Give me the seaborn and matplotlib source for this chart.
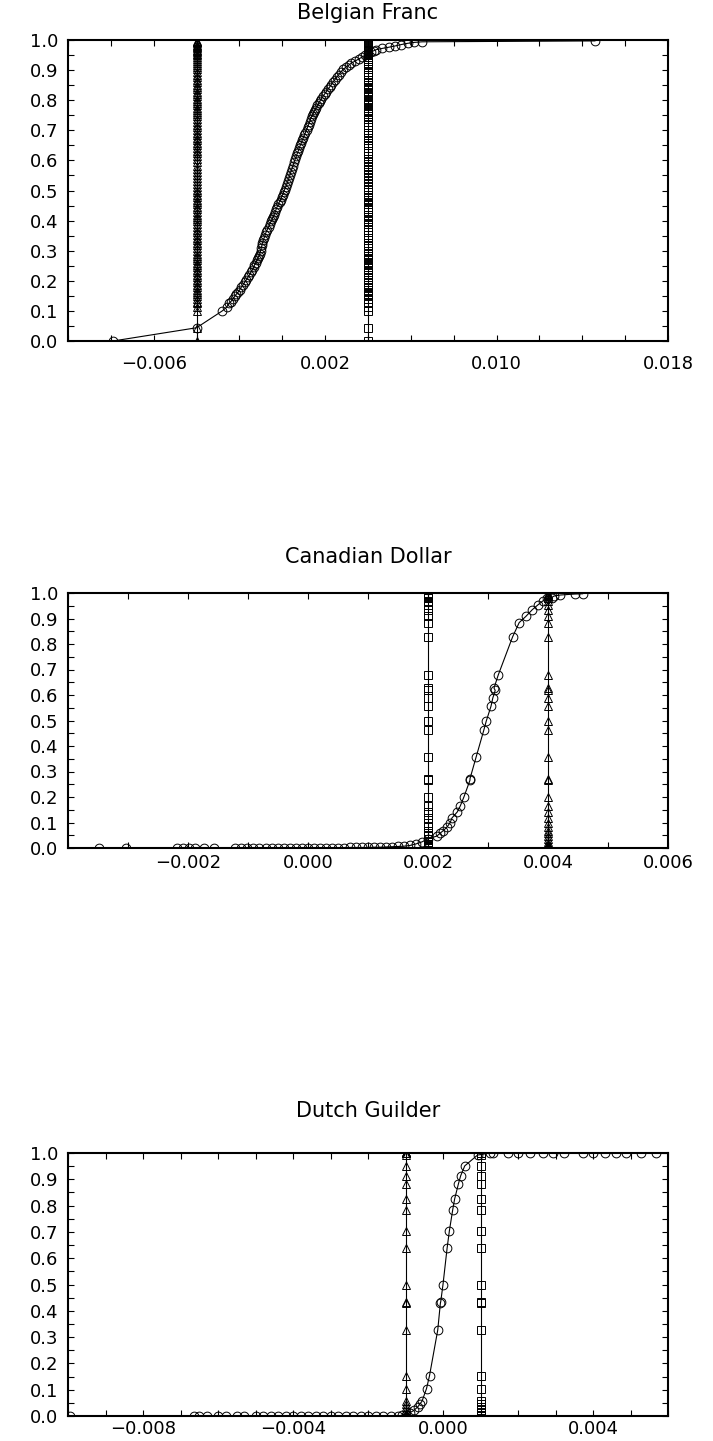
import matplotlib
matplotlib.use("Agg")
import matplotlib.pyplot as plt
import pandas as pd
import seaborn as sns
from matplotlib.ticker import FixedLocator, MultipleLocator, FuncFormatter

# ---------------------------------------------------------------- data
# Belgian Franc: cumulative probabilities shared by the three series,
# x of the smooth (circle) series, and the two point-mass locations.
bf_prob = [0.000, 0.044, 0.100, 0.112, 0.125, 0.131, 0.140, 0.148, 0.155, 0.162,
           0.170, 0.178, 0.187, 0.195, 0.203, 0.212, 0.219, 0.228, 0.236, 0.245,
           0.252, 0.260, 0.268, 0.275, 0.283, 0.290, 0.300, 0.310, 0.318, 0.325,
           0.334, 0.342, 0.351, 0.361, 0.370, 0.380, 0.390, 0.398, 0.405, 0.412,
           0.420, 0.428, 0.437, 0.446, 0.456, 0.463, 0.470, 0.478, 0.485, 0.494,
           0.503, 0.511, 0.520, 0.531, 0.541, 0.552, 0.562, 0.572, 0.583, 0.594,
           0.604, 0.613, 0.623, 0.632, 0.641, 0.650, 0.658, 0.667, 0.675, 0.684,
           0.692, 0.701, 0.710, 0.719, 0.728, 0.737, 0.746, 0.754, 0.761, 0.768,
           0.775, 0.783, 0.790, 0.798, 0.805, 0.813, 0.820, 0.828, 0.836, 0.844,
           0.852, 0.860, 0.868, 0.876, 0.885, 0.893, 0.902, 0.909, 0.916, 0.923,
           0.930, 0.937, 0.943, 0.949, 0.955, 0.960, 0.964, 0.968, 0.972, 0.976,
           0.980, 0.985, 0.989, 0.992, 0.994, 0.997]
bf_circle_x = [-0.00790, -0.00400, -0.00280, -0.00260, -0.00248, -0.00240, -0.00230, -0.00222, -0.00215, -0.00207,
               -0.00199, -0.00192, -0.00183, -0.00176, -0.00168, -0.00160, -0.00154, -0.00147, -0.00140, -0.00134,
               -0.00130, -0.00125, -0.00119, -0.00114, -0.00109, -0.00105, -0.00101, -0.00098, -0.00095, -0.00093,
               -0.00089, -0.00085, -0.00080, -0.00076, -0.00070, -0.00063, -0.00057, -0.00052, -0.00047, -0.00043,
               -0.00038, -0.00033, -0.00029, -0.00024, -0.00018, -0.00013, -0.00008, -0.00003, 0.00001, 0.00006,
               0.00011, 0.00016, 0.00021, 0.00026, 0.00031, 0.00036, 0.00040, 0.00045, 0.00050, 0.00055,
               0.00060, 0.00065, 0.00070, 0.00075, 0.00079, 0.00084, 0.00089, 0.00093, 0.00098, 0.00103,
               0.00108, 0.00113, 0.00118, 0.00123, 0.00128, 0.00132, 0.00137, 0.00143, 0.00148, 0.00152,
               0.00157, 0.00164, 0.00170, 0.00176, 0.00182, 0.00190, 0.00197, 0.00205, 0.00213, 0.00221,
               0.00229, 0.00237, 0.00245, 0.00254, 0.00264, 0.00273, 0.00283, 0.00296, 0.00309, 0.00322,
               0.00340, 0.00357, 0.00372, 0.00386, 0.00400, 0.00413, 0.00426, 0.00439, 0.00466, 0.00497,
               0.00525, 0.00556, 0.00585, 0.00614, 0.00653, 0.01460]
bf_triangle_x = -0.004
bf_square_x = 0.004
bf_xticks = [-0.006, 0.002, 0.010, 0.018]

# Canadian Dollar
cd_prob = [0.000, 0.000, 0.000, 0.000, 0.000, 0.000, 0.000, 0.000, 0.000, 0.000,
           0.000, 0.000, 0.000, 0.000, 0.000, 0.000, 0.000, 0.000, 0.000, 0.001,
           0.001, 0.001, 0.001, 0.001, 0.001, 0.001, 0.001, 0.002, 0.002, 0.002,
           0.002, 0.003, 0.003, 0.004, 0.005, 0.006, 0.007, 0.010, 0.016, 0.024,
           0.036, 0.047, 0.058, 0.067, 0.083, 0.100, 0.118, 0.142, 0.166, 0.201,
           0.266, 0.272, 0.355, 0.462, 0.497, 0.556, 0.588, 0.618, 0.627, 0.678,
           0.828, 0.884, 0.908, 0.935, 0.953, 0.970, 0.979, 0.982, 0.988, 0.992,
           0.996, 0.997]
cd_circle_x = [-0.00349, -0.00304, -0.00219, -0.00209, -0.00199, -0.00188, -0.00174, -0.00157, -0.00122, -0.00112,
               -0.00101, -0.00091, -0.00081, -0.00070, -0.00060, -0.00050, -0.00040, -0.00030, -0.00020, -0.00010,
               0.00000, 0.00010, 0.00020, 0.00030, 0.00040, 0.00050, 0.00060, 0.00070, 0.00080, 0.00090,
               0.00100, 0.00110, 0.00120, 0.00130, 0.00140, 0.00150, 0.00160, 0.00170, 0.00180, 0.00190,
               0.00200, 0.00215, 0.00220, 0.00225, 0.00232, 0.00237, 0.00240, 0.00249, 0.00254, 0.00260,
               0.00270, 0.00270, 0.00280, 0.00293, 0.00297, 0.00305, 0.00308, 0.00312, 0.00310, 0.00317,
               0.00341, 0.00352, 0.00363, 0.00374, 0.00383, 0.00392, 0.00399, 0.00406, 0.00410, 0.00420,
               0.00445, 0.00458]
cd_triangle_x = 0.004
cd_square_x = 0.002
cd_xticks = [-0.002, 0.000, 0.002, 0.004, 0.006]

# Dutch Guilder
dg_prob = [0.000, 0.000, 0.000, 0.000, 0.000, 0.000, 0.000, 0.000, 0.000, 0.000,
           0.000, 0.000, 0.000, 0.000, 0.000, 0.000, 0.000, 0.000, 0.000, 0.000,
           0.000, 0.000, 0.000, 0.000, 0.000, 0.000, 0.000, 0.000, 0.003, 0.005,
           0.012, 0.021, 0.035, 0.047, 0.056, 0.104, 0.153, 0.327, 0.429, 0.435,
           0.500, 0.639, 0.704, 0.785, 0.825, 0.882, 0.913, 0.951, 0.992, 1.000,
           1.000, 1.000, 1.000, 1.000, 1.000, 1.000, 1.000, 1.000, 1.000, 1.000,
           1.000, 1.000, 1.000, 1.000]
dg_circle_x = [-0.00996, -0.00665, -0.00650, -0.00630, -0.00600, -0.00580, -0.00550, -0.00530, -0.00500, -0.00480,
               -0.00460, -0.00440, -0.00420, -0.00400, -0.00380, -0.00360, -0.00340, -0.00320, -0.00300, -0.00280,
               -0.00260, -0.00240, -0.00220, -0.00200, -0.00180, -0.00160, -0.00140, -0.00120, -0.00110, -0.00100,
               -0.00089, -0.00078, -0.00067, -0.00061, -0.00056, -0.00044, -0.00036, -0.00014, -0.00007, -0.00006,
               0.00000, 0.00011, 0.00017, 0.00026, 0.00031, 0.00041, 0.00047, 0.00058, 0.00092, 0.00125,
               0.00133, 0.00172, 0.00200, 0.00233, 0.00267, 0.00294, 0.00322, 0.00372, 0.00400, 0.00433,
               0.00461, 0.00489, 0.00528, 0.00567]
dg_triangle_x = -0.001
dg_square_x = 0.001
dg_xticks = [-0.008, -0.004, 0.000, 0.004]

y_ticks = [0.0, 0.1, 0.2, 0.3, 0.4, 0.5, 0.6, 0.7, 0.8, 0.9, 1.0]

# ---------------------------------------------------------------- style
sns.set_theme(style="ticks")
plt.rcParams["font.family"] = ["DejaVu Sans"]
plt.rcParams["axes.linewidth"] = 1.5

fig = plt.figure(figsize=(7.13, 14.41), dpi=100)
W, H = 713.0, 1441.0


def add_axes(left, top, right, bottom):
    return fig.add_axes([left / W, 1 - bottom / H, (right - left) / W, (bottom - top) / H])


def sci_label(v, pos):
    if abs(v) < 1e-12:
        return "0.000"
    return f"{v:.3f}".replace("-", "\u2212")


def draw_panel(ax, title, title_y, prob, circle_x, tri_x, sq_x, xlim, xticks, minor_step, xpad):
    n = len(prob)
    df = pd.DataFrame({
        "x": list(circle_x) + [tri_x] * n + [sq_x] * n,
        "y": list(prob) * 3,
        "series": ["circle"] * n + ["triangle"] * n + ["square"] * n,
    })
    sns.lineplot(data=df, x="x", y="y", style="series",
                 markers={"circle": "o", "triangle": "^", "square": "s"},
                 dashes=False, sort=False, estimator=None, legend=False,
                 color="black", linewidth=0.8, markersize=6.3,
                 markerfacecolor="none", markeredgecolor="black",
                 markeredgewidth=0.7, ax=ax)
    ax.set_xlim(*xlim)
    ax.set_ylim(0.0, 1.0)
    ax.xaxis.set_major_locator(FixedLocator(xticks))
    ax.xaxis.set_minor_locator(MultipleLocator(minor_step))
    ax.yaxis.set_major_locator(FixedLocator(y_ticks))
    ax.yaxis.set_minor_locator(MultipleLocator(0.05))
    ax.xaxis.set_major_formatter(FuncFormatter(sci_label))
    ax.yaxis.set_major_formatter(FuncFormatter(lambda v, p: f"{v:.1f}"))
    ax.tick_params(which="both", direction="in", top=True, right=True,
                   length=4, width=0.8, color="black")
    ax.tick_params(axis="both", which="major", labelsize=13, colors="black")
    ax.tick_params(axis="x", which="major", pad=xpad)
    ax.tick_params(axis="y", which="major", pad=7)
    ax.set_xlabel("")
    ax.set_ylabel("")
    for s in ax.spines.values():
        s.set_color("black")
        s.set_linewidth(1.5)
    fig.text(368 / W, 1 - title_y / H, title, ha="center", va="center",
             fontsize=15, color="black")


ax1 = add_axes(68, 40, 668, 341)
draw_panel(ax1, "Belgian Franc", 13, bf_prob, bf_circle_x, bf_triangle_x, bf_square_x,
           (-0.010, 0.018), bf_xticks, 0.002, 10)

ax2 = add_axes(68, 593, 668, 848)
draw_panel(ax2, "Canadian Dollar", 557, cd_prob, cd_circle_x, cd_triangle_x, cd_square_x,
           (-0.004, 0.006), cd_xticks, 0.001, 4)

ax3 = add_axes(68, 1153, 668, 1416)
draw_panel(ax3, "Dutch Guilder", 1111, dg_prob, dg_circle_x, dg_triangle_x, dg_square_x,
           (-0.010, 0.006), dg_xticks, 0.001, 3)

fig.savefig("out.png", dpi=100, facecolor="white")
